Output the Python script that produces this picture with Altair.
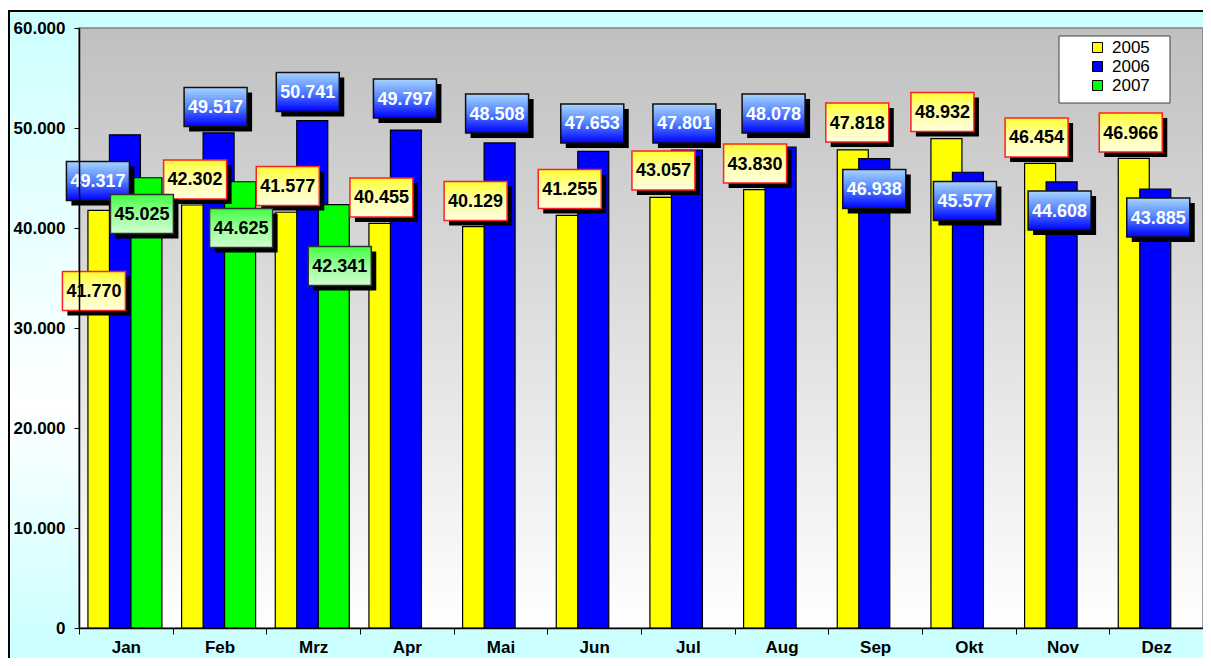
import altair as alt
import pandas as pd

# ---------------- data ----------------
months = ["Jan", "Feb", "Mrz", "Apr", "Mai", "Jun", "Jul", "Aug", "Sep", "Okt", "Nov", "Dez"]
years = ["2005", "2006", "2007"]
values_2005 = [41770, 42302, 41577, 40455, 40129, 41255, 43057, 43830, 47818, 48932, 46454, 46966]
values_2006 = [49317, 49517, 50741, 49797, 48508, 47653, 47801, 48078, 46938, 45577, 44608, 43885]
values_2007 = [45025, 44625, 42341]
y_ticks = [0, 10000, 20000, 30000, 40000, 50000, 60000]

# ---------------- layout / style ----------------
W, H = 1124, 600
PX_X = 12 / W          # one pixel in x data units
PX_Y = 60000 / H       # one pixel in y data units
colors = ["#FFFF00", "#0000FF", "#00FF00"]
slot_px = {"2005": -22.4, "2006": -0.9, "2007": 20.6}   # bar offset inside month slot
BAR_W = 31
BOX_W, BOX_H = 63, 39
SHADOW = 5
# manually moved data labels: offset (px) of label centre from bar-top centre
label_dx = {"2005": [-9.5, -2, -3, -3, -2.5, -2, -2, -4, 4.5, -4, -3.5, -3],
            "2006": [-27, -3, -4.5, -1, -2.5, -1, -2.5, -7, 0, -3, -2, 3],
            "2007": [-4.5, 1, 6]}
label_dy = {"2005": [80.7, -25.5, -26.2, -26, -25.7, -26.5, -27, -26.2, -27.3, -26.7, -26, -25.8],
            "2006": [46.2, -25.8, -28.6, -31.5, -29.4, -28, -26.5, -33.7, 30.4, 28.8, 28.6, 28.35],
            "2007": [36.25, 46.25, 61.4]}

series = {"2005": values_2005, "2006": values_2006, "2007": values_2007}
rows = []
for yr in years:
    for i, v in enumerate(series[yr]):
        xpos = i + 0.5 + slot_px[yr] * PX_X
        lx = xpos + label_dx[yr][i] * PX_X
        lc = v - label_dy[yr][i] * PX_Y
        rows.append({
            "month": months[i], "year": yr, "value": v, "xpos": xpos,
            "lx": lx, "lc": lc - 1 * PX_Y,
            "box_y": lc - BOX_H / 2 * PX_Y, "box_y2": lc + BOX_H / 2 * PX_Y,
            "sh_x": lx + SHADOW * PX_X,
            "sh_y": lc - (BOX_H / 2 + SHADOW) * PX_Y, "sh_y2": lc + (BOX_H / 2 - SHADOW) * PX_Y,
            "label": f"{v:,}".replace(",", "."),
        })
df = pd.DataFrame(rows)

FONT = "Liberation Sans"
x_scale = alt.Scale(domain=[0, 12], nice=False, zero=False, padding=0)
y_scale = alt.Scale(domain=[0, 60000], nice=False, padding=0)

month_expr = "datum.value < 12 ? [" + ",".join(f"'{m}'" for m in months) + "][datum.value] : ''"

x_axis = alt.Axis(values=list(range(13)), labelExpr=month_expr, labelOffset=W / 24,
                  tickSize=6, tickColor="black", domainColor="black", domainWidth=1.5,
                  labelFont=FONT, labelFontSize=17, labelFontWeight="bold", labelColor="black",
                  labelPadding=5, labelOverlap=False, labelFlush=False, labelBound=False,
                  grid=False, title=None, zindex=1)
y_axis = alt.Axis(values=y_ticks, labelExpr="replace(format(datum.value, ',d'), ',', '.')",
                  tickSize=5, tickColor="black", domainColor="black", domainWidth=1.5,
                  labelFont=FONT, labelFontSize=17, labelFontWeight="bold", labelColor="black",
                  labelPadding=9, grid=False, title=None, zindex=1)


def grad(stops):
    return alt.LinearGradient(gradient="linear", x1=0, y1=0, x2=0, y2=1,
                              stops=[alt.GradientStop(color=c, offset=o) for o, c in stops])


one = pd.DataFrame({"a": [0]})

frame = alt.Chart(one).mark_rect(
    fill=grad([(0, "#CCFFFF"), (0.55, "#FFFFFF"), (0.88, "#CCFFFF"), (1, "#CCFFFF")]),
    stroke="black", strokeWidth=2
).encode(x=alt.value(-70), x2=alt.value(1170), y=alt.value(-17), y2=alt.value(700))

plot_bg = alt.Chart(one).mark_rect(
    fill=grad([(0, "#C0C0C0"), (1, "#FFFFFF")]), stroke="#808080", strokeWidth=1.5
).encode(x=alt.value(0), x2=alt.value(W), y=alt.value(0), y2=alt.value(H))

legend_box = alt.Chart(one).mark_rect(fill="white", stroke="#404040", strokeWidth=1).encode(
    x=alt.value(980), x2=alt.value(1091), y=alt.value(8), y2=alt.value(75))

bars = alt.Chart(df).mark_bar(width=BAR_W, stroke="black", strokeWidth=1.2).encode(
    x=alt.X("xpos:Q", scale=x_scale, axis=x_axis, title=None),
    y=alt.Y("value:Q", scale=y_scale, axis=y_axis, title=None),
    color=alt.Color("year:N", scale=alt.Scale(domain=years, range=colors),
                    legend=alt.Legend(orient="none", legendX=1010, legendY=11, padding=0,
                                      title=None, symbolType="square", symbolSize=100,
                                      symbolStrokeColor="black", symbolStrokeWidth=1,
                                      labelFont=FONT, labelFontSize=17, labelColor="black",
                                      rowPadding=1, labelOffset=6)),
)

box_styles = {
    "2005": (grad([(0, "#FFFF30"), (0.45, "#FFFFA0"), (1, "#FFFFDD")]), "#FF2020", "black"),
    "2006": (grad([(0, "#A8D4FF"), (0.5, "#5080FF"), (1, "#0000FF")]), "#101010", "white"),
    "2007": (grad([(0, "#40FF40"), (0.5, "#99FF99"), (1, "#D0FFD0")]), "#303030", "black"),
}

layers = [frame, plot_bg, legend_box, bars]
for yr in years:
    fill, stroke, tcol = box_styles[yr]
    base = alt.Chart(df).transform_filter(alt.datum.year == yr)
    shadow = base.mark_bar(width=BOX_W, fill="black").encode(
        x=alt.X("sh_x:Q", scale=x_scale, title=None),
        y=alt.Y("sh_y:Q", scale=y_scale, title=None), y2="sh_y2:Q")
    box = base.mark_bar(width=BOX_W, fill=fill, stroke=stroke, strokeWidth=1.5).encode(
        x=alt.X("lx:Q", scale=x_scale, title=None),
        y=alt.Y("box_y:Q", scale=y_scale, title=None), y2="box_y2:Q")
    text = base.mark_text(font=FONT, fontSize=18, fontWeight="bold", color=tcol,
                          align="center", baseline="middle").encode(
        x=alt.X("lx:Q", scale=x_scale, title=None),
        y=alt.Y("lc:Q", scale=y_scale, title=None), text="label:N")
    layers += [shadow, box, text]

chart = alt.layer(*layers).properties(
    width=W, height=H,
    autosize=alt.AutoSizeParams(type="none"),
    padding={"left": 71, "top": 20, "right": 0, "bottom": 30},
    background="white",
).configure_view(stroke=None)

chart.save("out.html", embed_options={"renderer": "svg", "actions": False})
